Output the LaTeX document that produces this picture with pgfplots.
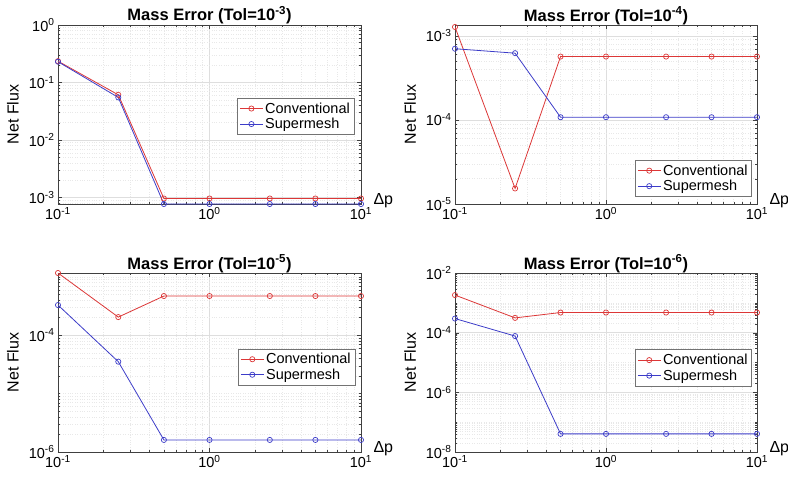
\documentclass[border=0pt]{standalone}
\usepackage{fontspec}
\setmainfont{Liberation Sans}
\usepackage{pgfplots}
\pgfplotsset{compat=1.18}

\definecolor{convred}{RGB}{220,55,55}
\definecolor{superblue}{RGB}{60,60,200}

\newcommand{\tfont}{\fontsize{14.5}{16}\selectfont}

% common look of the four panels
\pgfplotsset{
  scale only axis, width=303pt, height=179pt,
  xmin=0.1, xmax=10,
  xtick={0.1,1,10},
  xticklabels={10\textsuperscript{-1},10\textsuperscript{0},10\textsuperscript{1}},
  minor xtick={0.2,0.3,0.4,0.5,0.6,0.7,0.8,0.9,2,3,4,5,6,7,8,9},
  grid=both, major grid style={black!13}, minor grid style={black!9,dotted},
  axis line style={black!75}, tick style={black!75},
  tick align=inside, major tick length=4pt, minor tick length=2pt,
  ticklabel style={font=\tfont},
  title style={font=\bfseries\fontsize{16.5}{18}\selectfont, at={(0.5,1)}, anchor=base, yshift=-2pt},
  ylabel style={font=\fontsize{16}{18}\selectfont, at={(axis description cs:-0.1485,0.5)}, anchor=center},
  xlabel style={font=\fontsize{16}{18}\selectfont, at={(axis description cs:1,0)}, anchor=west, xshift=9pt, yshift=3pt},
  legend style={draw=black!55, fill=white, font=\tfont, inner xsep=2pt, inner ysep=2.5pt, row sep=-0.5pt, cells={anchor=west}},
  legend image code/.code={\draw[mark repeat=2,mark phase=2,#1] plot coordinates {(0cm,0cm) (0.4cm,0cm) (0.8cm,0cm)};},
  conv/.style={color=convred, line width=0.8pt, mark=o, mark size=2.6pt, mark options={line width=0.7pt}},
  supm/.style={color=superblue, line width=0.8pt, mark=o, mark size=2.6pt, mark options={line width=0.7pt}},
}

\begin{document}
\begin{tikzpicture}
\useasboundingbox (0,0) rectangle (788pt,483pt);

% top left
\begin{loglogaxis}[at={(58pt,279pt)}, anchor=south west,
  title={Mass Error (Tol=10\textsuperscript{-3})},
  xlabel={Δp}, ylabel={Net Flux},
  ymin=7.7e-4, ymax=1,
  ytick={1e-3,1e-2,1e-1,1},
  yticklabels={10\textsuperscript{-3},10\textsuperscript{-2},10\textsuperscript{-1},10\textsuperscript{0}},
  minor ytick={8e-4,9e-4,2e-3,3e-3,4e-3,5e-3,6e-3,7e-3,8e-3,9e-3,2e-2,3e-2,4e-2,5e-2,6e-2,7e-2,8e-2,9e-2,2e-1,3e-1,4e-1,5e-1,6e-1,7e-1,8e-1,9e-1},
  legend style={at={(0.977,0.49)}, anchor=east}]
\addplot[conv] coordinates {(0.1,0.235) (0.25,0.061) (0.5,9.6e-4) (1,9.6e-4) (2.5,9.6e-4) (5,9.6e-4) (10,9.6e-4)};
\addplot[supm] coordinates {(0.1,0.23) (0.25,0.055) (0.5,7.7e-4) (1,7.7e-4) (2.5,7.7e-4) (5,7.7e-4) (10,7.7e-4)};
\legend{Conventional,Supermesh}
\end{loglogaxis}

% top right
\begin{loglogaxis}[width=302pt, at={(455pt,279pt)}, anchor=south west,
  title={Mass Error (Tol=10\textsuperscript{-4})},
  xlabel={Δp}, ylabel={Net Flux},
  ymin=1e-5, ymax=1.34e-3,
  ytick={1e-5,1e-4,1e-3},
  yticklabels={10\textsuperscript{-5},10\textsuperscript{-4},10\textsuperscript{-3}},
  minor ytick={2e-5,3e-5,4e-5,5e-5,6e-5,7e-5,8e-5,9e-5,2e-4,3e-4,4e-4,5e-4,6e-4,7e-4,8e-4,9e-4},
  legend style={at={(0.983,0.04)}, anchor=south east}]
\addplot[conv] coordinates {(0.1,1.27e-3) (0.25,1.53e-5) (0.5,5.65e-4) (1,5.65e-4) (2.5,5.65e-4) (5,5.65e-4) (10,5.65e-4)};
\addplot[supm] coordinates {(0.1,7.0e-4) (0.25,6.2e-4) (0.5,1.075e-4) (1,1.075e-4) (2.5,1.075e-4) (5,1.075e-4) (10,1.075e-4)};
\legend{Conventional,Supermesh}
\end{loglogaxis}

% bottom left
\begin{loglogaxis}[at={(58pt,31pt)}, anchor=south west,
  title={Mass Error (Tol=10\textsuperscript{-5})},
  xlabel={Δp}, ylabel={Net Flux},
  ymin=1e-6, ymax=1.16e-3,
  ytick={1e-6,1e-4},
  yticklabels={10\textsuperscript{-6},10\textsuperscript{-4}},
  minor ytick={2e-6,3e-6,4e-6,5e-6,6e-6,7e-6,8e-6,9e-6,1e-5,2e-5,3e-5,4e-5,5e-5,6e-5,7e-5,8e-5,9e-5,2e-4,3e-4,4e-4,5e-4,6e-4,7e-4,8e-4,9e-4,1e-3},
  legend style={at={(0.98,0.475)}, anchor=east}]
\addplot[conv] coordinates {(0.1,1.16e-3) (0.25,2.04e-4) (0.5,4.68e-4) (1,4.68e-4) (2.5,4.68e-4) (5,4.68e-4) (10,4.68e-4)};
\addplot[supm] coordinates {(0.1,3.28e-4) (0.25,3.52e-5) (0.5,1.61e-6) (1,1.61e-6) (2.5,1.61e-6) (5,1.61e-6) (10,1.61e-6)};
\legend{Conventional,Supermesh}
\end{loglogaxis}

% bottom right
\begin{loglogaxis}[width=302pt, at={(455pt,31pt)}, anchor=south west,
  title={Mass Error (Tol=10\textsuperscript{-6})},
  xlabel={Δp}, ylabel={Net Flux},
  ymin=1e-8, ymax=1e-2,
  ytick={1e-8,1e-6,1e-4,1e-2},
  yticklabels={10\textsuperscript{-8},10\textsuperscript{-6},10\textsuperscript{-4},10\textsuperscript{-2}},
  minor ytick={2e-8,3e-8,4e-8,5e-8,6e-8,7e-8,8e-8,9e-8,1e-7,2e-7,3e-7,4e-7,5e-7,6e-7,7e-7,8e-7,9e-7,2e-6,3e-6,4e-6,5e-6,6e-6,7e-6,8e-6,9e-6,1e-5,2e-5,3e-5,4e-5,5e-5,6e-5,7e-5,8e-5,9e-5,2e-4,3e-4,4e-4,5e-4,6e-4,7e-4,8e-4,9e-4,1e-3,2e-3,3e-3,4e-3,5e-3,6e-3,7e-3,8e-3,9e-3},
  legend style={at={(0.983,0.47)}, anchor=east}]
\addplot[conv] coordinates {(0.1,1.82e-3) (0.25,3.13e-4) (0.5,4.73e-4) (1,4.73e-4) (2.5,4.73e-4) (5,4.73e-4) (10,4.73e-4)};
\addplot[supm] coordinates {(0.1,2.97e-4) (0.25,7.7e-5) (0.5,4.05e-8) (1,4.05e-8) (2.5,4.05e-8) (5,4.05e-8) (10,4.05e-8)};
\legend{Conventional,Supermesh}
\end{loglogaxis}
\end{tikzpicture}
\end{document}
